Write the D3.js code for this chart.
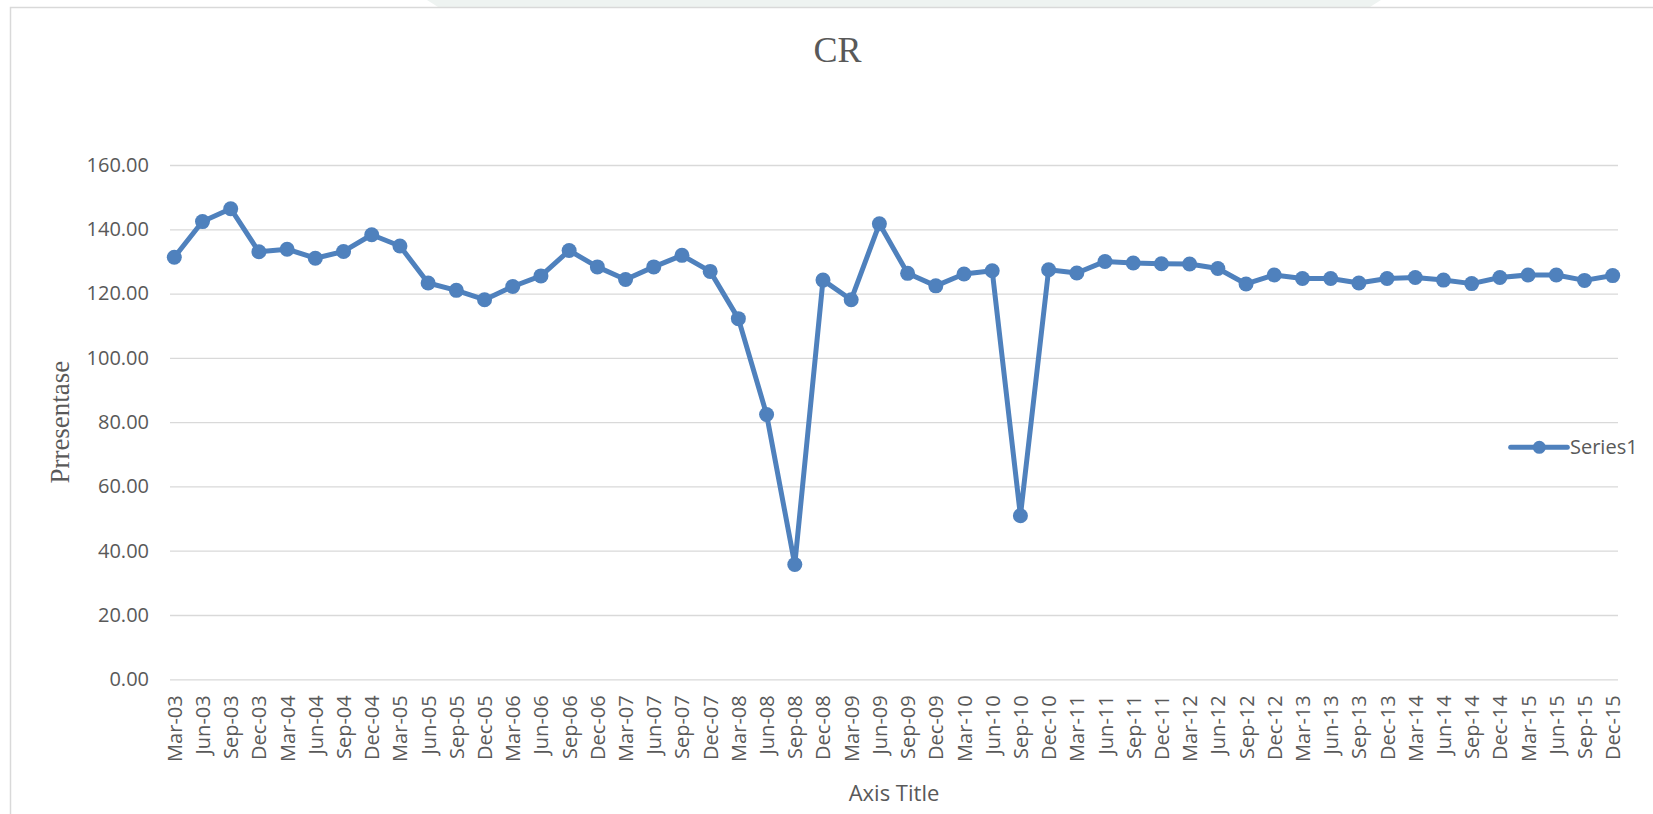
<!DOCTYPE html>
<html>
<head>
<meta charset="utf-8">
<script src="https://cdn.jsdelivr.net/npm/d3@7"></script>
<style>
  body { margin: 0; background: #fff; }
  text { fill: #595959; }
</style>
</head>
<body>
<div id="container"></div>
<script>
const title = 'CR';
const yTitle = 'Prresentase';
const xTitle = 'Axis Title';
const seriesName = 'Series1';

const quarters = ['Mar', 'Jun', 'Sep', 'Dec'];
const years = ['03', '04', '05', '06', '07', '08', '09', '10', '11', '12', '13', '14', '15'];
const categories = years.flatMap(yr => quarters.map(q => q + '-' + yr));

const values = [
    131.3, 142.4, 146.4, 133.0,
    133.8, 131.0, 133.1, 138.3,
    134.8, 123.3, 121.0, 118.1,
    122.2, 125.5, 133.4, 128.3,
    124.4, 128.3, 131.9, 126.9,
    112.2, 82.4, 35.7, 124.2,
    118.1, 141.7, 126.3, 122.4,
    126.1, 127.1, 50.9, 127.4,
    126.4, 130.0, 129.5, 129.3,
    129.2, 127.8, 123.0, 125.8,
    124.7, 124.7, 123.3, 124.7,
    125.0, 124.2, 123.1, 125.0,
    125.8, 125.8, 124.1, 125.6
];

const yTicks = [0, 20, 40, 60, 80, 100, 120, 140, 160];

const W = 1653, H = 814;
const plotLeft = 170, plotRight = 1618;
const color = '#4f81bd';
const font = '"Open Sans", sans-serif';

const svg = d3.select('#container')
    .append('svg')
    .attr('width', W)
    .attr('height', H);

// faint shape above the chart frame
svg.append('polygon')
    .attr('points', '427,0 1381,0 1370,7 438,7')
    .attr('fill', '#eef3f1');

// chart frame
svg.append('rect')
    .attr('x', 10.5)
    .attr('y', 7.5)
    .attr('width', W)
    .attr('height', H)
    .attr('fill', 'none')
    .attr('stroke', '#d9d9d9')
    .attr('stroke-width', 1.5);

const x = d3.scalePoint()
    .domain(categories)
    .range([174.3, 1612.7]);

const y = d3.scaleLinear()
    .domain([0, 160])
    .range([679.3, 165]);

// y axis with gridlines
const yAxis = svg.append('g')
    .attr('transform', `translate(${plotLeft},0)`)
    .call(d3.axisLeft(y)
        .tickValues(yTicks)
        .tickFormat(d3.format('.2f'))
        .tickSize(-(plotRight - plotLeft))
        .tickPadding(21));
yAxis.select('.domain').remove();
yAxis.selectAll('.tick line')
    .attr('stroke', '#d9d9d9')
    .attr('stroke-width', 1.3);
yAxis.selectAll('.tick text')
    .attr('font-family', font)
    .attr('font-size', 20)
    .style('fill', '#595959');

// x axis labels
const xAxis = svg.append('g')
    .attr('transform', `translate(0,${y(0)})`)
    .call(d3.axisBottom(x).tickSize(0));
xAxis.select('.domain').remove();
xAxis.selectAll('.tick text')
    .attr('font-family', font)
    .attr('font-size', 20)
    .style('fill', '#595959')
    .attr('text-anchor', 'end')
    .attr('transform', 'translate(0,16) rotate(-90)')
    .attr('x', 0)
    .attr('y', 0)
    .attr('dy', '0.35em');

// series line
const line = d3.line()
    .x((d, i) => x(categories[i]))
    .y(d => y(d));

svg.append('path')
    .datum(values)
    .attr('d', line)
    .attr('fill', 'none')
    .attr('stroke', color)
    .attr('stroke-width', 5)
    .attr('stroke-linejoin', 'round');

svg.append('g')
    .selectAll('circle')
    .data(values)
    .enter()
    .append('circle')
    .attr('cx', (d, i) => x(categories[i]))
    .attr('cy', d => y(d))
    .attr('r', 7.5)
    .attr('fill', color);

// title
svg.append('text')
    .attr('x', 837.5)
    .attr('y', 62)
    .attr('text-anchor', 'middle')
    .attr('font-family', '"Liberation Serif", serif')
    .attr('font-size', 36)
    .text(title);

// y axis title
svg.append('text')
    .attr('transform', `translate(69,${(y(0) + y(160)) / 2}) rotate(-90)`)
    .attr('text-anchor', 'middle')
    .attr('font-family', '"Liberation Serif", serif')
    .attr('font-size', 27)
    .text(yTitle);

// x axis title
svg.append('text')
    .attr('x', (plotLeft + plotRight) / 2)
    .attr('y', 801)
    .attr('text-anchor', 'middle')
    .attr('font-family', font)
    .attr('font-size', 22)
    .text(xTitle);

// legend
const lg = svg.append('g').attr('transform', 'translate(0,447.3)');
lg.append('line')
    .attr('x1', 1510.7)
    .attr('x2', 1567.3)
    .attr('stroke', color)
    .attr('stroke-width', 5)
    .attr('stroke-linecap', 'round');
lg.append('circle')
    .attr('cx', 1539.3)
    .attr('r', 6.5)
    .attr('fill', color);
lg.append('text')
    .attr('x', 1570)
    .attr('dy', '0.35em')
    .attr('font-family', font)
    .attr('font-size', 20)
    .text(seriesName);
</script>
</body>
</html>
